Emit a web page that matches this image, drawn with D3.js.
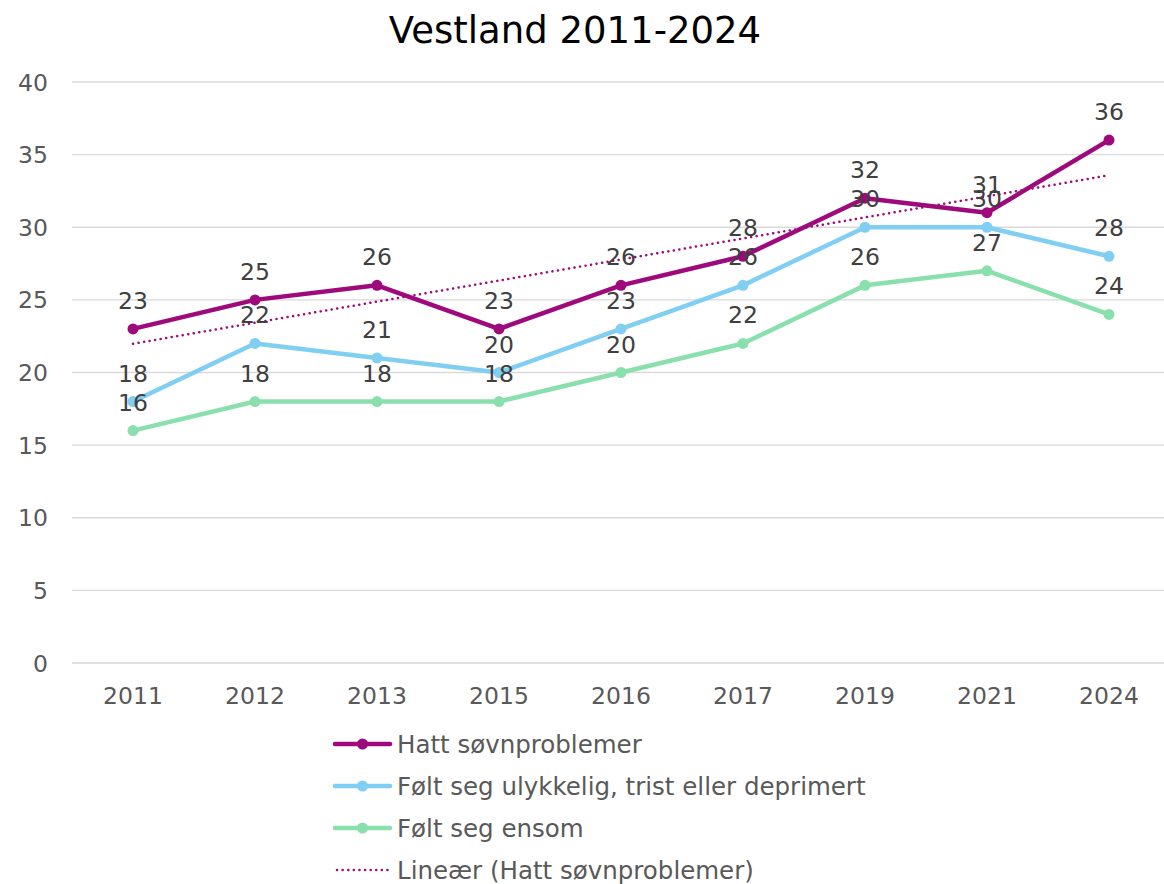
<!DOCTYPE html>
<html>
<head>
<meta charset="utf-8">
<script src="https://cdn.jsdelivr.net/npm/d3@7"></script>
<style>
  body { margin: 0; background: #fff; }
  svg { font-family: "DejaVu Sans", Verdana, sans-serif; }
</style>
</head>
<body>
<svg id="chart" width="1164" height="884"></svg>
<script>
const years = ['2011', '2012', '2013', '2015', '2016', '2017', '2019', '2021', '2024'];
const sovn = [23, 25, 26, 23, 26, 28, 32, 31, 36];
const trist = [18, 22, 21, 20, 23, 26, 30, 30, 28];
const ensom = [16, 18, 18, 18, 20, 22, 26, 27, 24];
const yTicks = [0, 5, 10, 15, 20, 25, 30, 35, 40];

const series = [
  { name: 'Hatt søvnproblemer', values: sovn, color: '#9e0a7b' },
  { name: 'Følt seg ulykkelig, trist eller deprimert', values: trist, color: '#80cff3' },
  { name: 'Følt seg ensom', values: ensom, color: '#8ae0ad' }
];

const svg = d3.select('#chart');

const x = d3.scaleBand().domain(years).range([72, 1170]);
const y = d3.scaleLinear().domain([0, 40]).range([663, 82]);
const cx = d => x(d) + x.bandwidth() / 2;

// title
svg.append('text')
  .attr('x', 575).attr('y', 43)
  .attr('text-anchor', 'middle')
  .style('font-size', '37px')
  .attr('fill', '#000')
  .text('Vestland 2011-2024');

// grid + y labels
const yAxis = svg.append('g');
yAxis.selectAll('line').data(yTicks).join('line')
  .attr('x1', 72).attr('x2', 1164)
  .attr('y1', d => y(d)).attr('y2', d => y(d))
  .attr('stroke', '#d9d9d9').attr('stroke-width', 1.3);
yAxis.selectAll('text').data(yTicks).join('text')
  .attr('x', 48).attr('y', d => y(d) + 8.5)
  .attr('text-anchor', 'end')
  .style('font-size', '23.5px')
  .attr('fill', '#595959')
  .text(d => d);

// x labels
svg.append('g').selectAll('text').data(years).join('text')
  .attr('x', d => cx(d)).attr('y', 704)
  .attr('text-anchor', 'middle')
  .style('font-size', '23.5px')
  .attr('fill', '#595959')
  .text(d => d);

// linear trend for sovn
const n = sovn.length;
const mx = d3.mean(d3.range(n));
const my = d3.mean(sovn);
const slope = d3.sum(sovn, (v, i) => (i - mx) * (v - my)) / d3.sum(d3.range(n), i => (i - mx) ** 2);
const icpt = my - slope * mx;
svg.append('line')
  .attr('x1', cx(years[0])).attr('y1', y(icpt))
  .attr('x2', cx(years[n - 1])).attr('y2', y(icpt + slope * (n - 1)))
  .attr('stroke', '#9e0a7b').attr('stroke-width', 2.5)
  .attr('stroke-dasharray', '0.1 5.5').attr('stroke-linecap', 'round');

const line = d3.line().x((d, i) => cx(years[i])).y(d => y(d));

// draw series bottom-up
[...series].reverse().forEach(s => {
  const g = svg.append('g');
  g.append('path').attr('d', line(s.values))
    .attr('fill', 'none').attr('stroke', s.color)
    .attr('stroke-width', 4.5).attr('stroke-linejoin', 'round');
  g.selectAll('circle').data(s.values).join('circle')
    .attr('cx', (d, i) => cx(years[i])).attr('cy', d => y(d))
    .attr('r', 5.5).attr('fill', s.color);
});

// data labels
series.forEach(s => {
  svg.append('g').selectAll('text').data(s.values).join('text')
    .attr('x', (d, i) => cx(years[i])).attr('y', d => y(d) - 20)
    .attr('text-anchor', 'middle')
    .style('font-size', '23.5px')
    .attr('fill', '#404040')
    .text(d => d);
});

// legend
const legendItems = series.map(s => ({ name: s.name, color: s.color, dotted: false }))
  .concat([{ name: 'Lineær (Hatt søvnproblemer)', color: '#9e0a7b', dotted: true }]);
const lg = svg.append('g').selectAll('g').data(legendItems).join('g')
  .attr('transform', (d, i) => `translate(335,${744 + i * 42})`);
lg.append('line')
  .attr('x1', d => d.dotted ? 2 : 0).attr('x2', 55)
  .attr('stroke', d => d.color)
  .attr('stroke-width', d => d.dotted ? 2.5 : 4.5)
  .attr('stroke-dasharray', d => d.dotted ? '0.1 5.5' : null)
  .attr('stroke-linecap', 'round');
lg.filter(d => !d.dotted).append('circle')
  .attr('cx', 27.5).attr('r', 5.5).attr('fill', d => d.color);
lg.append('text')
  .attr('x', 62).attr('y', 8.5)
  .style('font-size', '24.5px')
  .attr('fill', '#595959')
  .text(d => d.name);
</script>
</body>
</html>
